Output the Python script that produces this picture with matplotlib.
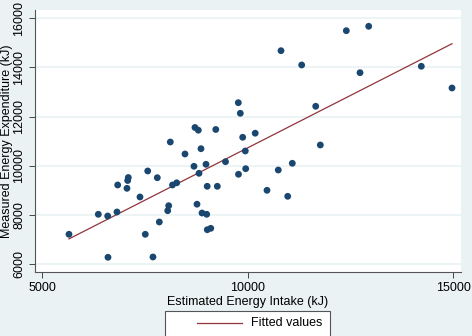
import numpy as np
import matplotlib.pyplot as plt
from matplotlib.patches import Rectangle
from matplotlib.lines import Line2D

# Данные (кДж)
intake = [5656, 6369, 6597, 6823, 6604, 6840, 7066, 7083, 7098, 7382,
          7570, 7511, 7698, 7803, 7852, 8056, 8080, 8119, 8172, 8275,
          8476, 8695, 8768, 8817, 8865, 8890, 9004, 8987, 9016, 9018,
          9103, 9262, 9461, 9777, 9952, 9942, 9879, 10183, 10470, 8719,
          8800, 9225, 9772, 9821, 10810, 11313, 12398, 12942, 12731, 14221,
          14967, 11654, 11766, 11085, 10744, 10973]
expenditure = [7220, 8033, 7963, 8126, 6285, 9224, 9089, 9406, 9528, 8736,
               9793, 7220, 6297, 9520, 7720, 8179, 8382, 10971, 9224, 9313,
               10484, 9984, 8443, 9699, 10699, 8085, 8033, 10065, 9171, 7406,
               7463, 9171, 10171, 9659, 9886, 10606, 11163, 11329, 9008, 11561,
               11451, 11480, 12569, 12138, 14683, 14102, 15496, 15675, 13789, 14049,
               13167, 12423, 10850, 10106, 9833, 8764]

x_ticks = [5000, 10000, 15000]
y_ticks = [6000, 8000, 10000, 12000, 14000, 16000]

bg = '#EAF2F3'
navy = '#1A476F'
maroon = '#90353B'

plt.rcParams['font.family'] = ['Liberation Sans', 'DejaVu Sans']

fig = plt.figure(figsize=(4.72, 3.36), dpi=100, facecolor=bg)
ax = fig.add_axes([35 / 472, 1 - 272 / 336, 426 / 472, 262 / 336])
ax.set_facecolor('white')

x = np.array(intake, dtype=float)
y = np.array(expenditure, dtype=float)

# линия регрессии
b, a = np.polyfit(x, y, 1)
xs = np.array([x.min(), x.max()])

ax.scatter(x, y, s=24, color=navy, edgecolors='none', zorder=3)
ax.plot(xs, a + b * xs, color=maroon, lw=0.9, zorder=2)

ax.set_xlim(4830, 15186)
ax.set_ylim(5687, 16337)
ax.set_xticks(x_ticks)
ax.set_yticks(y_ticks)
ax.set_yticklabels([str(v) for v in y_ticks], rotation=90, va='center')
ax.tick_params(axis='both', labelsize=9, length=4, width=0.7, color='#444444',
               labelcolor='black', pad=3)

ax.grid(axis='y', color=bg, lw=1.2)
ax.set_axisbelow(True)
for side in ['top', 'right']:
    ax.spines[side].set_visible(False)
for side in ['left', 'bottom']:
    ax.spines[side].set_color('#555555')
    ax.spines[side].set_linewidth(0.8)

ax.set_xlabel('Estimated Energy Intake (kJ)', fontsize=9, labelpad=2)
ax.set_ylabel('Measured Energy Expenditure (kJ)', fontsize=9)
ax.yaxis.set_label_coords(-0.052, 0.5)

# легенда в стиле Stata
W, H = 472, 336
fig.patches.append(Rectangle((165 / W, 1 - 338 / H), 165 / W, 27 / H,
                             transform=fig.transFigure, facecolor='white',
                             edgecolor='#555555', lw=0.8))
fig.lines.append(Line2D([197 / W, 242 / W], [1 - 323 / H, 1 - 323 / H],
                        transform=fig.transFigure, color=maroon, lw=0.9))
fig.text(251 / W, 1 - 323 / H, 'Fitted values', fontsize=9, va='center', ha='left')

fig.savefig('out.png', dpi=100, facecolor=bg)
